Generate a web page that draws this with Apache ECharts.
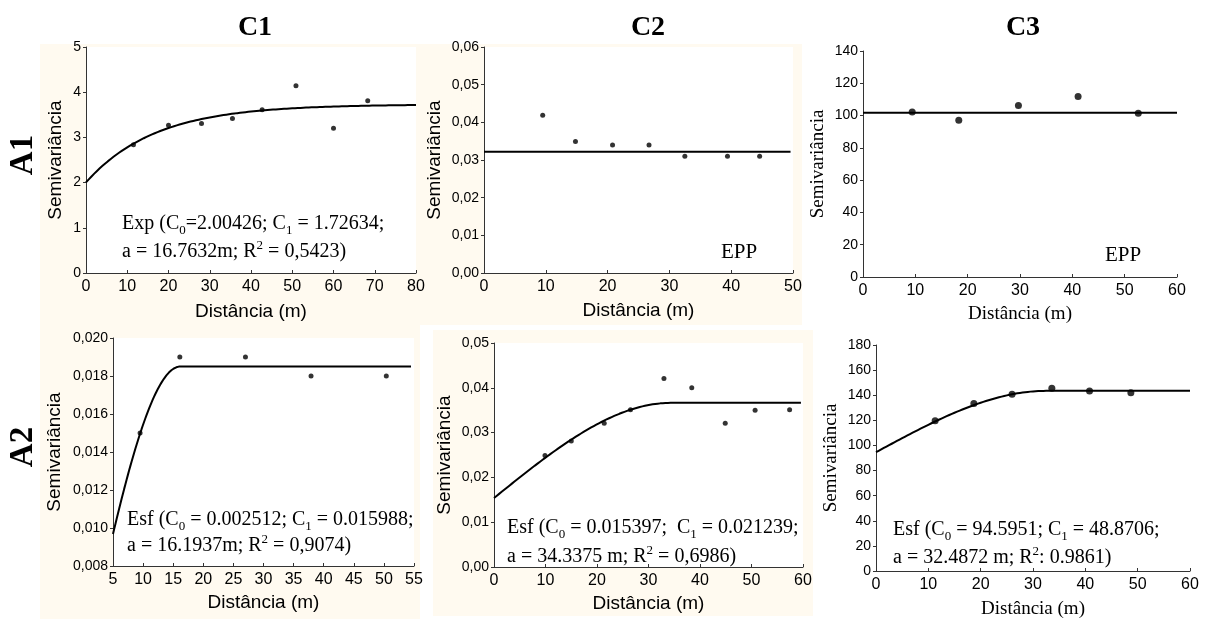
<!DOCTYPE html>
<html>
<head>
<meta charset="utf-8">
<script src="https://cdn.jsdelivr.net/npm/echarts@6/dist/echarts.min.js"></script>
<style>
  html, body { margin: 0; padding: 0; background: #fff; }
  #chart { width: 1208px; height: 619px; }
</style>
</head>
<body>
<div id="chart"></div>
<script>
// Experimental semivariograms (lag distance in m, semivariance) for each attribute/layer
const a1c1Dist = [11.5, 20.0, 28.0, 35.5, 42.7, 50.9, 60.0, 68.3];
const a1c1Semi = [2.84, 3.27, 3.31, 3.42, 3.61, 4.14, 3.20, 3.81];

const a1c2Dist = [9.5, 14.8, 20.8, 26.7, 32.5, 39.4, 44.6];
const a1c2Semi = [0.0419, 0.0349, 0.0340, 0.0340, 0.0310, 0.0310, 0.0310];

const a1c3Dist = [9.4, 18.3, 29.7, 41.1, 52.6];
const a1c3Semi = [102.2, 97.1, 106.3, 111.8, 101.4];

const a2c1Dist = [9.5, 16.1, 27.0, 37.9, 50.4];
const a2c1Semi = [0.0150, 0.0190, 0.0190, 0.0180, 0.0180];

const a2c2Dist = [9.9, 15.0, 21.4, 26.5, 33.0, 38.4, 44.9, 50.7, 57.4];
const a2c2Semi = [0.0249, 0.0281, 0.0321, 0.0351, 0.0421, 0.0400, 0.0321, 0.0350, 0.0351];

const a2c3Dist = [11.3, 18.7, 26.0, 33.6, 40.8, 48.7];
const a2c3Semi = [119.7, 133.5, 140.7, 145.5, 143.3, 142.0];

// Fitted models: [C0, C1, a]
const a1c1Exp = [2.00426, 1.72634, 16.7632];
const a2c1Sph = [0.002512, 0.015988, 16.1937];
const a2c2Sph = [0.015397, 0.021239, 34.3375];
const a2c3Sph = [94.5951, 48.8706, 32.4872];
// Pure nugget effect (EPP) levels
const a1c2Nugget = [0.0322];
const a1c3Nugget = [101.8];

// Axis ranges: [min, max, interval]
const a1c1X = [0, 80, 10],  a1c1Y = [0, 5, 1];
const a1c2X = [0, 50, 10],  a1c2Y = [0, 0.06, 0.01];
const a1c3X = [0, 60, 10],  a1c3Y = [0, 140, 20];
const a2c1X = [5, 55, 5],   a2c1Y = [0.008, 0.020, 0.002];
const a2c2X = [0, 60, 10],  a2c2Y = [0, 0.05, 0.01];
const a2c3X = [0, 60, 10],  a2c3Y = [0, 180, 20];

const colHeads = ['C1', 'C2', 'C3'];
const rowHeads = ['A1', 'A2'];
const xTitle = 'Distância (m)';
const yTitle = 'Semivariância';

// Annotation lines (rich text tokens)
const a1c1Note = ['{n|Exp (C}{s|0}{n|=2.00426; C}{s|1}{n| = 1.72634;}', '{n|a = 16.7632m; R}{p|2}{n| = 0,5423)}'];
const a2c1Note = ['{n|Esf (C}{s|0}{n| = 0.002512; C}{s|1}{n| = 0.015988;}', '{n|a = 16.1937m; R}{p|2}{n| = 0,9074)}'];
const a2c2Note = ['{n|Esf (C}{s|0}{n| = 0.015397;  C}{s|1}{n| = 0.021239;}', '{n|a = 34.3375 m; R}{p|2}{n| = 0,6986)}'];
const a2c3Note = ['{n|Esf (C}{s|0}{n| = 94.5951; C}{s|1}{n| = 48.8706;}', '{n|a = 32.4872 m; R}{p|2}{n|: 0.9861)}'];
const eppNote = 'EPP';

// Model curves
function expModel(p, h) { return p[0] + p[1] * (1 - Math.exp(-h / p[2])); }
function sphModel(p, h) {
  if (h >= p[2]) return p[0] + p[1];
  const r = h / p[2];
  return p[0] + p[1] * (1.5 * r - 0.5 * r * r * r);
}
function modelLine(fn, p, x0, x1) {
  const out = [];
  const n = 240;
  for (let i = 0; i <= n; i++) {
    const h = x0 + (x1 - x0) * i / n;
    out.push([h, fn(p, h)]);
  }
  return out;
}
function flatLine(level, x0, x1) { return [[x0, level[0]], [x1, level[0]]]; }
function pairs(xs, ys) { return xs.map((x, i) => [x, ys[i]]); }

const SANS = 'Liberation Sans';
const SERIF = 'Liberation Serif';

const panels = [
  { box: [86, 47, 330, 226], x: a1c1X, y: a1c1Y, dec: 0, pts: pairs(a1c1Dist, a1c1Semi),
    fit: modelLine(expModel, a1c1Exp, 0, 80), sym: 5, titleFont: SANS, xGap: 29, yGap: 21 },
  { box: [484, 47, 309, 226], x: a1c2X, y: a1c2Y, dec: 2, pts: pairs(a1c2Dist, a1c2Semi),
    fit: flatLine(a1c2Nugget, 0, 49.6), sym: 5, titleFont: SANS, xGap: 28, yGap: 40 },
  { box: [863, 51, 314, 226], x: a1c3X, y: a1c3Y, dec: 0, pts: pairs(a1c3Dist, a1c3Semi),
    fit: flatLine(a1c3Nugget, 0, 60), sym: 7, titleFont: SERIF, xGap: 28, yGap: 35 },
  { box: [113, 338, 301, 228], x: a2c1X, y: a2c1Y, dec: 3, pts: pairs(a2c1Dist, a2c1Semi),
    fit: modelLine(sphModel, a2c1Sph, 5, 54.5), sym: 5, titleFont: SANS, xGap: 27, yGap: 49 },
  { box: [494, 343, 309, 224], x: a2c2X, y: a2c2Y, dec: 2, pts: pairs(a2c2Dist, a2c2Semi),
    fit: modelLine(sphModel, a2c2Sph, 0, 59.6), sym: 5, titleFont: SANS, xGap: 27, yGap: 40 },
  { box: [876, 345, 314, 226], x: a2c3X, y: a2c3Y, dec: 0, pts: pairs(a2c3Dist, a2c3Semi),
    fit: modelLine(sphModel, a2c3Sph, 0, 60), sym: 7, titleFont: SERIF, xGap: 29, yGap: 35 }
];

const grids = [], xAxes = [], yAxes = [], series = [];
panels.forEach((p, i) => {
  grids.push({
    left: p.box[0], top: p.box[1], width: p.box[2], height: p.box[3],
    show: true, backgroundColor: '#ffffff', borderWidth: 0,
    containLabel: false, outerBoundsMode: 'none'
  });
  const nameStyle = { fontFamily: p.titleFont, fontSize: 19, color: '#000' };
  xAxes.push({
    gridIndex: i, type: 'value', min: p.x[0], max: p.x[1], interval: p.x[2],
    axisLine: { show: true, onZero: false, lineStyle: { color: '#333', width: 1 } },
    axisTick: { show: true, inside: true, length: 3, lineStyle: { color: '#333' } },
    splitLine: { show: false },
    axisLabel: { fontFamily: SANS, fontSize: 16, color: '#000', margin: 6, showMinLabel: true, showMaxLabel: true },
    name: xTitle, nameLocation: 'middle', nameGap: p.xGap, nameTextStyle: nameStyle
  });
  yAxes.push({
    gridIndex: i, type: 'value', min: p.y[0], max: p.y[1], interval: p.y[2],
    axisLine: { show: true, onZero: false, lineStyle: { color: '#333', width: 1 } },
    axisTick: { show: true, inside: false, length: 3, lineStyle: { color: '#333' } },
    splitLine: { show: false },
    axisLabel: {
      fontFamily: SANS, fontSize: 14, color: '#000', margin: 5, showMinLabel: true, showMaxLabel: true,
      formatter: v => Number(v).toFixed(p.dec).replace('.', ',')
    },
    name: yTitle, nameLocation: 'middle', nameGap: p.yGap, nameTextStyle: nameStyle
  });
  series.push({
    type: 'line', xAxisIndex: i, yAxisIndex: i, data: p.fit,
    showSymbol: false, symbol: 'none', smooth: false, silent: true,
    lineStyle: { color: '#000', width: 2 }, z: 2
  });
  series.push({
    type: 'scatter', xAxisIndex: i, yAxisIndex: i, data: p.pts,
    symbol: 'circle', symbolSize: p.sym, silent: true,
    itemStyle: { color: '#000' }, z: 3
  });
});

// Annotation text helpers
const richStyles = {
  n: { fontFamily: SERIF, fontSize: 20, lineHeight: 26, color: '#000', verticalAlign: 'middle' },
  s: { fontFamily: SERIF, fontSize: 13, lineHeight: 13, color: '#000', verticalAlign: 'bottom' },
  p: { fontFamily: SERIF, fontSize: 13, lineHeight: 13, color: '#000', verticalAlign: 'top' }
};
function noteLine(text, x, cy) {
  return {
    type: 'text', x: x, y: cy - 13, z: 10,
    style: { text: text, rich: richStyles, fill: '#000', align: 'left', verticalAlign: 'top',
             textAlign: 'left', textVerticalAlign: 'top' }
  };
}
function plainText(text, x, cy, font, size) {
  return {
    type: 'text', x: x, y: cy, z: 10,
    style: { text: text, fill: '#000', font: size + 'px ' + font,
             align: 'left', verticalAlign: 'middle', textAlign: 'left', textVerticalAlign: 'middle' }
  };
}

const graphics = [
  // panel backgrounds
  { type: 'rect', z: -100, shape: { x: 40, y: 44, width: 762, height: 281 }, style: { fill: '#fffaf0' } },
  { type: 'rect', z: -100, shape: { x: 40, y: 325, width: 380, height: 294 }, style: { fill: '#fffaf0' } },
  { type: 'rect', z: -100, shape: { x: 433, y: 330, width: 380, height: 286 }, style: { fill: '#fffaf0' } },
  // annotations
  noteLine(a1c1Note[0], 122, 224), noteLine(a1c1Note[1], 122, 252),
  noteLine(a2c1Note[0], 127, 520), noteLine(a2c1Note[1], 127, 546),
  noteLine(a2c2Note[0], 507, 528), noteLine(a2c2Note[1], 507, 557),
  noteLine(a2c3Note[0], 893, 530), noteLine(a2c3Note[1], 893, 558),
  plainText(eppNote, 721, 252, SERIF, 21),
  plainText(eppNote, 1105, 255, SERIF, 21)
];
// column and row headings
const colX = [255, 648, 1023];
colHeads.forEach((t, i) => {
  graphics.push({
    type: 'text', x: colX[i], y: 28, z: 10,
    style: { text: t, fill: '#000', font: 'bold 28px ' + SERIF,
             align: 'center', verticalAlign: 'middle', textAlign: 'center', textVerticalAlign: 'middle' }
  });
});
const rowY = [155, 447];
rowHeads.forEach((t, i) => {
  graphics.push({
    type: 'text', x: 23, y: rowY[i], rotation: Math.PI / 2, z: 10,
    style: { text: t, fill: '#000', font: 'bold 33px ' + SERIF,
             align: 'center', verticalAlign: 'middle', textAlign: 'center', textVerticalAlign: 'middle' }
  });
});

const chart = echarts.init(document.getElementById('chart'), null, { renderer: 'canvas' });
chart.setOption({
  animation: false,
  backgroundColor: '#ffffff',
  grid: grids,
  xAxis: xAxes,
  yAxis: yAxes,
  series: series,
  graphic: { elements: graphics }
});
</script>
</body>
</html>
